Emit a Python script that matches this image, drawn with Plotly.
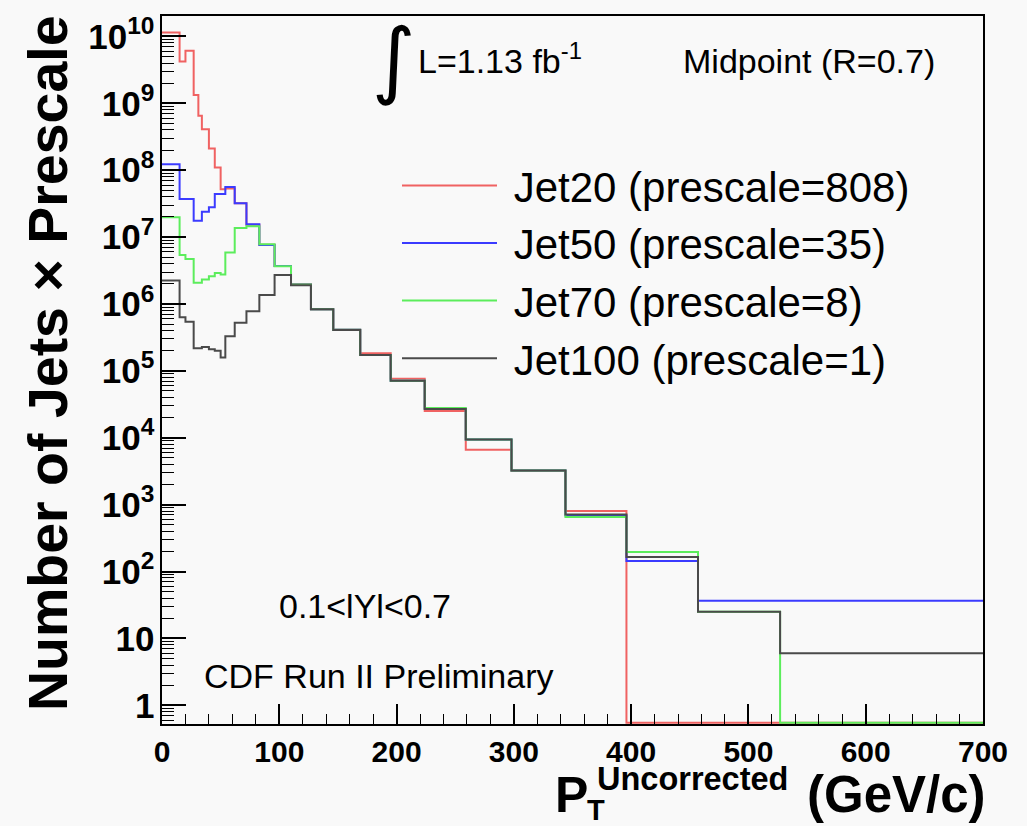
import plotly.graph_objects as go

# ---------------- data ----------------
edges = [0, 15, 20, 27, 31, 34, 40, 45, 50, 54, 62, 72, 83, 96, 110, 127,
         146, 169, 195, 224, 259, 298, 344, 396, 457, 527, 700]

jet20 = [1.14e10, 4.2e9, 6.1e9, 1.33e9, 6.5e8, 4.1e8, 2.1e8, 1.1e8, 5.2e7,
         5.3e7, 3.2e7, 1.53e7, 7.7e6, 3.7e6, 1.98e6, 8.3e5, 4.1e5, 1.83e5,
         7.6e4, 2.5e4, 6.6e3, 3.2e3, 800, 0, 0, 0]
jet50 = [1.23e8, 3.7e7, 3.7e7, 1.75e7, 1.75e7, 2.4e7, 2.8e7, 4.4e7, 4.4e7,
         5.6e7, 3.2e7, 1.56e7, 7.6e6, 3.7e6, 1.96e6, 8.3e5, 4.1e5, 1.73e5,
         7.1e4, 2.7e4, 9.4e3, 3.23e3, 690, 144, 36.5, 36.5]
jet70 = [1.97e7, 5.4e6, 4.7e6, 2.07e6, 2.07e6, 2.33e6, 2.6e6, 2.9e6, 2.75e6,
         5.9e6, 1.37e7, 1.45e7, 7.8e6, 3.67e6, 1.96e6, 8.3e5, 4.1e5, 1.73e5,
         7.1e4, 2.78e4, 9.4e3, 3.23e3, 652, 196, 25, 0]
jet100 = [2.25e6, 6.3e5, 5.4e5, 2.18e5, 2.18e5, 2.28e5, 2.1e5, 1.99e5, 1.58e5,
          3.3e5, 5.25e5, 7.75e5, 1.36e6, 2.7e6, 1.91e6, 8.3e5, 4.08e5, 1.73e5,
          7.1e4, 2.69e4, 9.4e3, 3.23e3, 714, 165, 25, 6.0]

series_names = ["Jet20 (prescale=808)", "Jet50 (prescale=35)",
                "Jet70 (prescale=8)", "Jet100 (prescale=1)"]
series_values = [jet20, jet50, jet70, jet100]
series_colors = ["#f06262", "#3b3bff", "#5ced5c", "#4a4a4a"]

x_ticks = [0, 100, 200, 300, 400, 500, 600, 700]

# ---------------- layout geometry ----------------
W, H = 1027, 826
L, R, T, B = 162, 983, 14, 724
Y_RANGE = [-0.28, 10.305]
floor = 10 ** (Y_RANGE[0] + 0.02)   # empty bins are drawn on the frame bottom, like ROOT

def px(x):
    return (x - L) / (R - L)

def py(y):
    return (B - y) / (B - T)

FONT = "Liberation Sans, Arial, Helvetica, sans-serif"
NBSP = "\u00a0"

fig = go.Figure()
for i, (name, vals, col) in enumerate(zip(series_names, series_values, series_colors)):
    yv = [v if v > 0 else floor for v in vals]
    fig.add_trace(go.Scatter(
        x=edges, y=yv + [yv[-1]], mode="lines", line_shape="hv",
        line=dict(color=col, width=2), name=NBSP + name, legendgroup=f"g{i}",
        hoverinfo="skip"))

annotations = [
    dict(text="∫", x=px(394), y=py(57), font=dict(size=84, family="DejaVu Sans")),
    dict(text="L=1.13 fb<sup>-1</sup>", x=px(416), y=py(57), xanchor="left",
         font=dict(size=34)),
    dict(text="Midpoint (R=0.7)", x=px(809), y=py(59), font=dict(size=34)),
    dict(text="0.1&lt;lYl&lt;0.7", x=px(365), y=py(606), font=dict(size=34)),
    dict(text="CDF Run II Preliminary", x=px(379), y=py(676), font=dict(size=34)),
    # axis titles
    dict(text="<b>Number of Jets × Prescale</b>", x=px(48), y=py(362),
         textangle=-90, font=dict(size=55.5)),
    dict(text="<b>P</b>", x=px(571), y=py(795), font=dict(size=50)),
    dict(text="<b>Uncorrected</b>", x=px(595), y=py(779), xanchor="left",
         font=dict(size=32.5)),
    dict(text="<b>T</b>", x=px(585), y=py(810), xanchor="left", font=dict(size=29)),
    dict(text="<b>(GeV/c)</b>", x=px(805), y=py(795), xanchor="left",
         font=dict(size=51)),
]
for a in annotations:
    a.setdefault("xanchor", "center")
    a.update(xref="paper", yref="paper", showarrow=False, yanchor="middle")
    a["font"].setdefault("family", FONT)
    a["font"].setdefault("color", "black")

fig.update_layout(
    width=W, height=H,
    margin=dict(l=L, r=W - R, t=T, b=H - B),
    paper_bgcolor="#f9f9f9", plot_bgcolor="#f9f9f9",
    font=dict(family=FONT, color="black"),
    showlegend=True,
    legend=dict(x=px(397), y=py(150), xanchor="left", yanchor="top",
                bgcolor="rgba(0,0,0,0)", borderwidth=0,
                font=dict(size=42, family=FONT), itemwidth=95,
                tracegroupgap=0, traceorder="normal"),
    annotations=annotations,
)
fig.update_xaxes(
    range=[0, 700], tickvals=x_ticks, ticktext=[str(v) for v in x_ticks],
    ticks="inside", ticklen=20, tickwidth=1.5, tickcolor="black",
    minor=dict(dtick=20, tick0=0, ticks="inside", ticklen=10, tickwidth=1.2,
               tickcolor="black"),
    tickfont=dict(size=30, family=FONT, weight="bold"),
    showline=True, mirror=True, linecolor="black", linewidth=2,
    showgrid=False, zeroline=False)
fig.update_yaxes(
    type="log", range=Y_RANGE, dtick=1, exponentformat="power",
    ticks="inside", ticklen=24, tickwidth=1.5, tickcolor="black",
    minor=dict(dtick="D1", ticks="inside", ticklen=12, tickwidth=1.2,
               tickcolor="black"),
    tickfont=dict(size=28, family=FONT, weight="bold"),
    showline=True, mirror=True, linecolor="black", linewidth=2,
    showgrid=False, zeroline=False)

fig.write_html("out.html", config={"displayModeBar": False},
               post_script="document.body.style.margin='0';document.body.style.overflow='hidden';")
